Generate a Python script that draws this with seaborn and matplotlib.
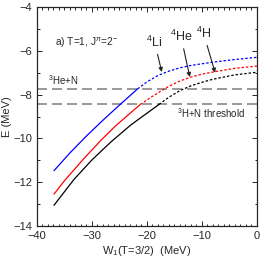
import matplotlib
matplotlib.use('Agg')
import matplotlib.pyplot as plt
import numpy as np
import seaborn as sns

# threshold energies (MeV)
thr_3HeN=-7.74
thr_3HN=-8.45

# 4Li (blue)
w_li=[-36.9,-34,-31,-28,-25,-23.3,-21.7,-20,-18,-16,-14,-12,-8,-4,0]
e_li=[-11.47,-10.66,-9.89,-9.17,-8.48,-8.1,-7.74,-7.42,-7.13,-6.93,-6.78,-6.67,-6.52,-6.4,-6.3]
# 4He (red)
w_he=[-36.9,-34.9,-31.5,-28.5,-25.8,-23.1,-21.2,-19,-17.6,-16,-14,-12,-10,-8,-4,0]
e_he=[-12.54,-11.9,-10.93,-10.12,-9.45,-8.86,-8.45,-8.08,-7.86,-7.62,-7.38,-7.2,-7.07,-6.97,-6.8,-6.7]
# 4H (black)
w_h=[-36.9,-33.3,-30,-26.5,-23,-20,-17.8,-16,-14,-12,-10,-8,-4,0]
e_h=[-13.05,-11.88,-10.98,-10.15,-9.4,-8.85,-8.45,-8.12,-7.82,-7.6,-7.44,-7.3,-7.1,-6.98]

sns.set_style('ticks')
plt.rcParams['font.family']=['Liberation Sans','DejaVu Sans']
plt.rcParams['mathtext.fontset']='custom'
plt.rcParams['mathtext.rm']='Liberation Sans'
plt.rcParams['mathtext.it']='Liberation Sans:italic'

fig=plt.figure(figsize=(2.64,2.66),dpi=100)
ax=fig.add_axes([0.140,0.150,0.833,0.824])

for y_th in [thr_3HeN,thr_3HN]:
    ax.axhline(y_th,color='#888888',lw=1.2,dashes=(6,3))

curves=[(w_li,e_li,'blue',thr_3HeN),(w_he,e_he,'red',thr_3HN),(w_h,e_h,'black',thr_3HN)]
for w,e,c,th in curves:
    w=np.array(w); e=np.array(e)
    lo=e<=th+1e-9
    hi=e>=th-1e-9
    sns.lineplot(x=w[lo],y=e[lo],color=c,lw=0.9,ax=ax,sort=False)
    sns.lineplot(x=w[hi],y=e[hi],color=c,lw=0.9,ax=ax,sort=False,linestyle=(0,(2,1.5)))

ax.set_xlim(-40,0)
ax.set_ylim(-14,-4)
ax.set_xticks([-40,-30,-20,-10,0])
ax.set_yticks([-14,-12,-10,-8,-6,-4])
ax.set_xticks(np.arange(-40,1,1),minor=True)
ax.set_yticks(np.arange(-14,-3,1),minor=True)
ax.tick_params(which='both',direction='in',top=True,right=True,labelsize=8,width=0.7)
ax.tick_params(which='major',length=3.5)
ax.tick_params(which='minor',length=1.8)
for s in ax.spines.values():
    s.set_linewidth(0.9)
ax.set_xlabel('W$_1$(T=3/2)  (MeV)',fontsize=8,labelpad=2)
ax.set_ylabel('E (MeV)',fontsize=8,labelpad=1)

ax.text(-36.7,-5.64,'a) T=1, J$^{\\pi}$=2$^{-}$',fontsize=7.3,va='center')
ax.text(-38,-7.33,'$^{3}$He+N',fontsize=7,va='center')
ax.text(-14.5,-8.85,'$^{3}$H+N threshold',fontsize=7,va='center')

arr=dict(arrowstyle='-|>',color='#222222',lw=0.8,mutation_scale=6,shrinkA=1,shrinkB=0)
ax.annotate('$^{4}$Li',xy=(-17.3,-6.97),xytext=(-18.6,-5.6),fontsize=9,ha='center',va='center',arrowprops=arr)
ax.annotate('$^{4}$He',xy=(-12.2,-7.2),xytext=(-13.8,-5.35),fontsize=9,ha='center',va='center',arrowprops=arr)
ax.annotate('$^{4}$H',xy=(-7.6,-7.0),xytext=(-9.7,-5.2),fontsize=9,ha='center',va='center',arrowprops=arr)

fig.savefig('out.png',dpi=100)
